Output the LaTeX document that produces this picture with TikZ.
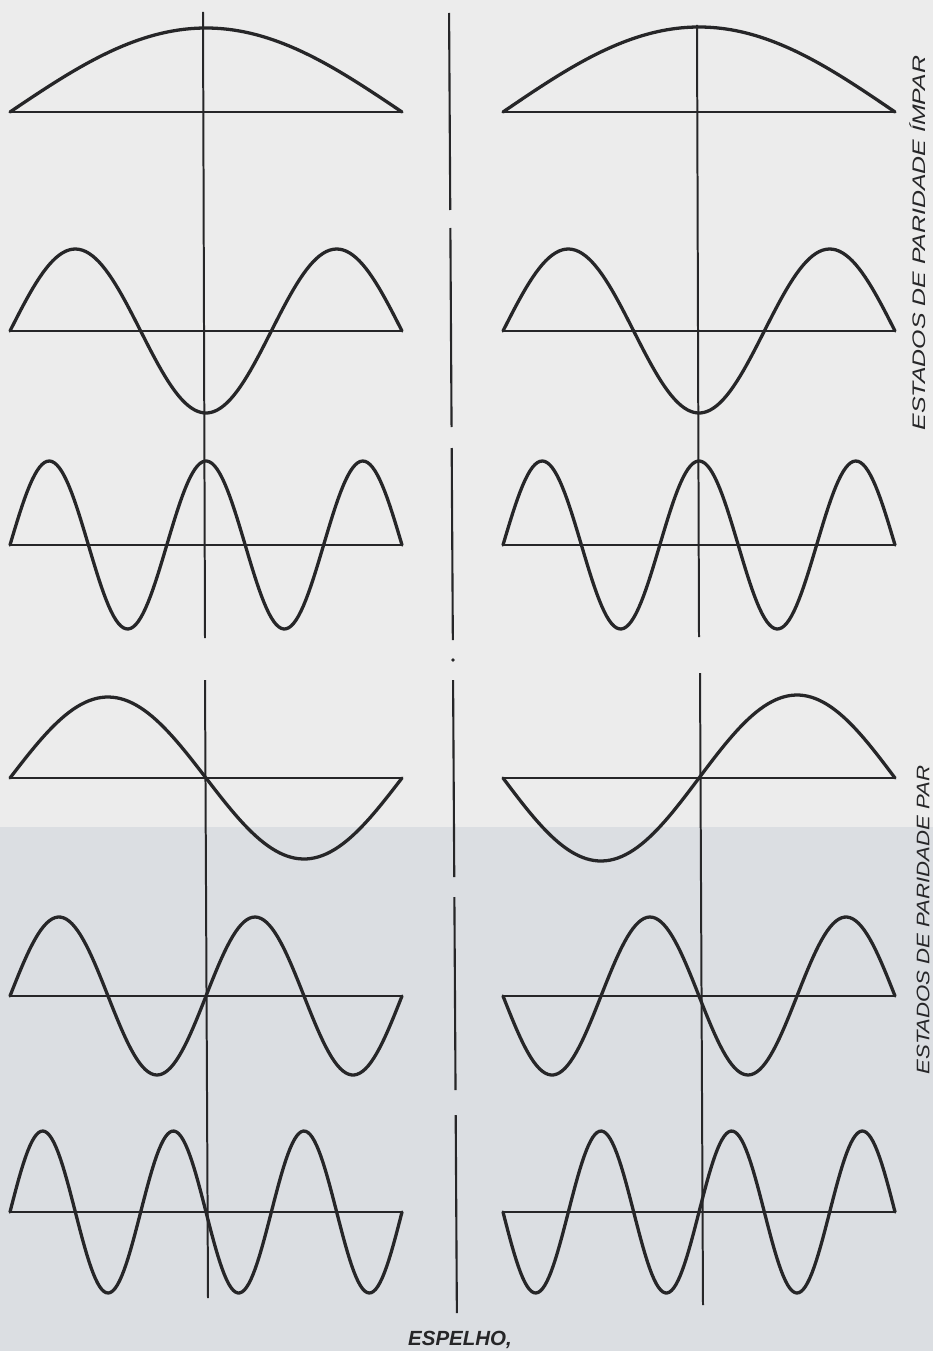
\documentclass[tikz,border=0pt]{standalone}
\usepackage{fontspec}
\setmainfont{Liberation Sans}
\usepackage{graphicx}
\usepackage{tikz}
\usetikzlibrary{positioning}
\definecolor{ink}{RGB}{38,38,40}
\definecolor{paperup}{RGB}{236,236,236}
\definecolor{paperlow}{RGB}{219,222,226}

\begin{document}
\begin{tikzpicture}[
  x=0.03cm, y=-0.03cm,
  wave/.style={line width=2.8pt, ink, line join=round, line cap=round},
  axis/.style={line width=1.7pt, ink},
  mirror/.style={line width=1.8pt, ink},
  tag/.style={font=\itshape\fontsize{15.5}{15.5}\selectfont, text=ink, rotate=90, inner sep=0pt},
  caption/.style={font=\bfseries\itshape\fontsize{17.5}{17.5}\selectfont, text=ink, inner sep=0pt},
]

% page (scan background)
\fill[paperup] (0,0) rectangle (933,827);
\fill[paperlow] (0,827) rectangle (933,1351);
\useasboundingbox (0,0) rectangle (933,1351);

% horizontal axes
\foreach \y in {112,331,545,778,996,1212} {
  \draw[axis] (10,\y) -- (403,\y);
  \draw[axis] (502,\y) -- (895,\y);
}

% vertical axes
\draw[axis] (203,12) -- (205,638);
\draw[axis] (205,680) -- (208,1298);
\draw[axis] (697,25) -- (699,637);
\draw[axis] (700,673) -- (703,1305);

% upper group, left
\draw[wave] plot[domain=10:402, samples=80] (\x, {112-84*cos(180*((\x-206)/392))});
\draw[wave] plot[domain=10:402, samples=120] (\x, {331+82*cos(540*((\x-206)/392))});
\draw[wave] plot[domain=10:402, samples=160] (\x, {545-84*cos(900*((\x-206)/392))});
% upper group, right
\draw[wave] plot[domain=503:895, samples=80] (\x, {112-85*cos(180*((\x-699)/392))});
\draw[wave] plot[domain=503:895, samples=120] (\x, {331+82*cos(540*((\x-699)/392))});
\draw[wave] plot[domain=503:895, samples=160] (\x, {545-84*cos(900*((\x-699)/392))});

% lower group, left
\draw[wave] plot[domain=10:402, samples=100] (\x, {778-81*sin(360*((\x-10)/392))});
\draw[wave] plot[domain=10:402, samples=140] (\x, {996-79*sin(720*((\x-10)/392))});
\draw[wave] plot[domain=10:402, samples=180] (\x, {1212-81*sin(1080*((\x-10)/392))});
% lower group, right (mirror image)
\draw[wave] plot[domain=503:895, samples=100] (\x, {778+83*sin(360*((\x-503)/392))});
\draw[wave] plot[domain=503:895, samples=140] (\x, {996+79*sin(720*((\x-503)/392))});
\draw[wave] plot[domain=503:895, samples=180] (\x, {1212+81*sin(1080*((\x-503)/392))});

% mirror
\foreach \a/\b in {13/210, 228/427, 448/640, 680/877, 897/1090, 1115/1313}
  \draw[mirror] ({449+0.006*\a},\a) -- ({449+0.006*\b},\b);
\fill[ink] (453,660) circle (1.8);

% labels
\node[tag] (impar) at (918,243) {\scalebox{1.37}[1]{ESTADOS DE PARIDADE ÍMPAR}};
\node[tag] (par) at (923,920) {\scalebox{1.22}[1]{ESTADOS DE PARIDADE PAR}};
\node[caption] (espelho) at (460,1340) {ESPELHO,};

\end{tikzpicture}
\end{document}
